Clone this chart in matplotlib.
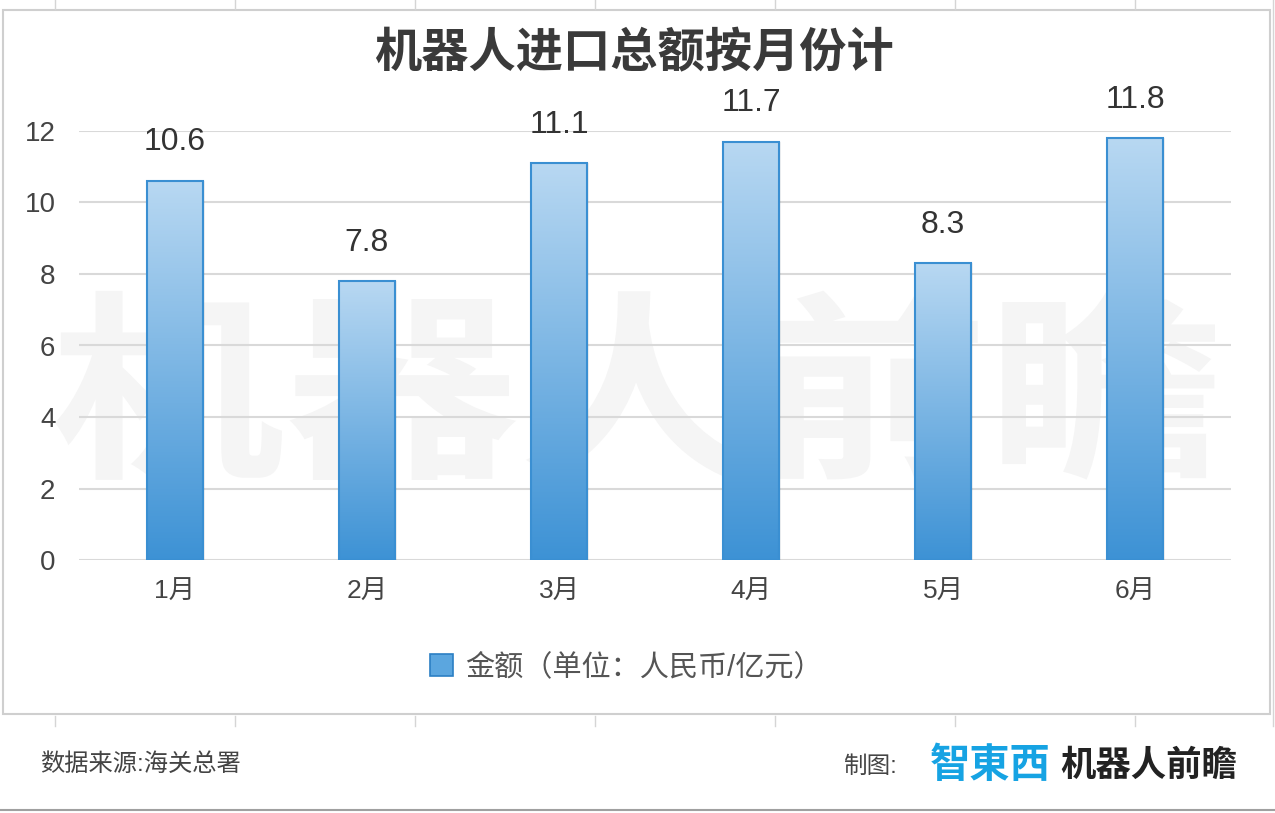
import matplotlib
matplotlib.use("Agg")
import matplotlib.pyplot as plt
import numpy as np
from matplotlib.patches import Rectangle, Patch, PathPatch
from matplotlib.textpath import TextPath
from matplotlib.font_manager import FontProperties
from matplotlib.transforms import Affine2D
from matplotlib.colors import LinearSegmentedColormap

plt.rcParams['font.family'] = ['Liberation Sans', 'Noto Sans CJK SC', 'DejaVu Sans']

# 数据
months = ['1月', '2月', '3月', '4月', '5月', '6月']
amounts = [10.6, 7.8, 11.1, 11.7, 8.3, 11.8]
y_ticks = [0, 2, 4, 6, 8, 10, 12]

W, H = 1275, 813
fig = plt.figure(figsize=(W / 100, H / 100), dpi=100)
fig.patch.set_facecolor('white')


def fx(px):
    return px / W


def fy(py):
    return 1 - py / H


# 水印
wm = TextPath((0, 0), '机器人前瞻', size=100,
              prop=FontProperties(family='Noto Sans CJK SC', weight='bold'))
ext = wm.get_extents()
sx = (fx(1215) - fx(55)) / ext.width
sy = (fy(290) - fy(480)) / ext.height
tr = Affine2D().translate(-ext.x0, -ext.y0).scale(sx, sy).translate(fx(55), fy(480))
fig.patches.append(PathPatch(tr.transform_path(wm), facecolor='#f5f5f5',
                             edgecolor='none', transform=fig.transFigure, zorder=-2))

# 外框与表格线
fig.patches.append(Rectangle((fx(3), fy(714)), fx(1270) - fx(3), fy(10) - fy(714),
                             transform=fig.transFigure, facecolor='none',
                             edgecolor='#cfcfcf', lw=1.5, zorder=-1))
for x in [55, 235, 415, 595, 775, 955, 1135]:
    fig.add_artist(plt.Line2D([fx(x), fx(x)], [fy(0), fy(9)], color='#d5d5d5', lw=1))
    fig.add_artist(plt.Line2D([fx(x), fx(x)], [fy(716), fy(726)], color='#d5d5d5', lw=1))
fig.add_artist(plt.Line2D([fx(1273), fx(1273)], [fy(0), fy(726)], color='#d5d5d5', lw=1))
fig.add_artist(plt.Line2D([0, 1], [fy(810), fy(810)], color='#a0a0a0', lw=1.5))

ax = fig.add_axes([fx(79), fy(560), fx(1231) - fx(79), fy(131) - fy(560)])
ax.set_facecolor('none')

x = np.arange(len(months))
bars = ax.bar(x, amounts, width=0.29, color='none', edgecolor='#3a8fd2',
              linewidth=1.5, zorder=3)

cmap = LinearSegmentedColormap.from_list('g', ['#3d92d5', '#b8d8f2'])
grad = np.linspace(0, 1, 256).reshape(-1, 1)
for b in bars:
    bx, by, bw, bh = b.get_x(), b.get_y(), b.get_width(), b.get_height()
    # 阴影
    ax.add_patch(Rectangle((bx + 0.012, by), bw, bh, facecolor='#000000',
                           alpha=0.06, edgecolor='none', zorder=2))
    im = ax.imshow(grad, extent=[bx, bx + bw, by, by + bh], origin='lower',
                   cmap=cmap, aspect='auto', zorder=2.5)
    im.set_clip_path(b)

for xi, v in zip(x, amounts):
    ax.annotate(f'{v}', (xi, v), xytext=(0, 17), textcoords='offset points',
                ha='center', va='bottom', fontsize=23, color='#333333',
                annotation_clip=False)

ax.set_xlim(-0.5, len(months) - 0.5)
ax.set_ylim(0, 12)
ax.set_yticks(y_ticks)
ax.set_xticks(x)
ax.set_xticklabels(months)
ax.grid(axis='y', color='#d9d9d9', lw=1.5, zorder=0)
ax.set_axisbelow(True)
for s in ax.spines.values():
    s.set_visible(False)
ax.tick_params(axis='both', length=0, colors='#444444')
ax.tick_params(axis='y', labelsize=20, pad=17)
ax.tick_params(axis='x', labelsize=19, pad=14)

fig.text(fx(634), fy(55), '机器人进口总额按月份计', ha='center', va='center',
         fontsize=34, fontweight='bold', color='#3a3a3a')

handle = Patch(facecolor='#5ba6df', edgecolor='#2b7fc4', lw=1.2)
fig.legend([handle], ['金额（单位：人民币/亿元）'], loc='center',
           bbox_to_anchor=(fx(626), fy(667)), frameon=False, fontsize=21,
           handlelength=0.8, handleheight=0.8, handletextpad=0.4,
           labelcolor='#555555')

fig.text(fx(40), fy(765), '数据来源:海关总署', ha='left', va='center',
         fontsize=17.5, color='#444444', fontweight='light')
fig.text(fx(843), fy(767), '制图:', ha='left', va='center',
         fontsize=17, color='#444444', fontweight='light')
fig.text(fx(930), fy(765), '智東西', ha='left', va='center',
         fontsize=29, color='#16a3e3', fontweight='bold',
         family=['Noto Sans CJK SC'])
fig.text(fx(1060), fy(765), '机器人前瞻', ha='left', va='center',
         fontsize=25.5, color='#222222', fontweight='bold',
         family=['Noto Sans CJK SC'])

fig.savefig('out.png', dpi=100)
